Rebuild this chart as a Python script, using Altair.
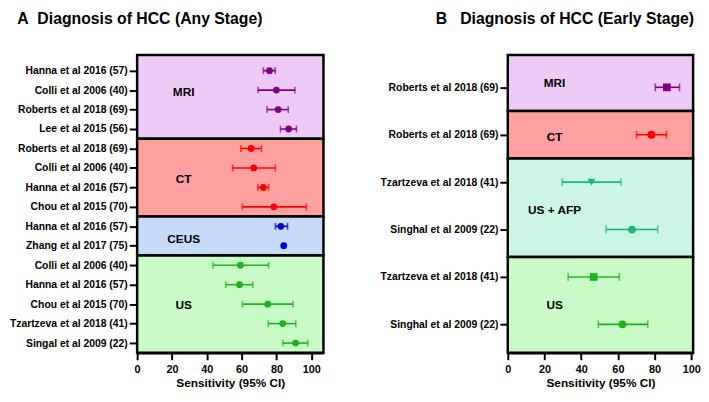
import json
import altair as alt
import pandas as pd

# ---------------- Panel A data ----------------
a_studies = ["Hanna et al 2016 (57)", "Colli et al 2006 (40)", "Roberts et al 2018 (69)", "Lee et al 2015 (56)",
             "Roberts et al 2018 (69)", "Colli et al 2006 (40)", "Hanna et al 2016 (57)", "Chou et al 2015 (70)",
             "Hanna et al 2016 (57)", "Zhang et al 2017 (75)",
             "Colli et al 2006 (40)", "Hanna et al 2016 (57)", "Chou et al 2015 (70)",
             "Tzartzeva et al 2018 (41)", "Singal et al 2009 (22)"]
a_modality = ["MRI"] * 4 + ["CT"] * 4 + ["CEUS"] * 2 + ["US"] * 5
a_sens = [76, 80, 81, 87, 65.5, 67, 72.5, 78.5, 82.5, 84.2, 59.3, 58.8, 75, 83.6, 91]
a_lo = [72.5, 69.5, 74.6, 82.3, 59.6, 54.8, 69.3, 60.5, 79.4, None, 43.6, 50.9, 60.5, 75.3, 83.6]
a_hi = [79.3, 90.6, 86.8, 91.5, 71.4, 79.4, 75.5, 97.2, 86.4, None, 75.5, 66.5, 89.5, 91.1, 98]
a_groups = ["MRI", "CT", "CEUS", "US"]
a_group_top = [-0.8, 3.5, 7.5, 9.5]
a_group_bottom = [3.5, 7.5, 9.5, 14.5]
a_label_row = [1.1, 5.55, 8.65, 12.03]
a_label_x = 26.7
a_xmax = 107

# ---------------- Panel B data ----------------
b_studies = ["Roberts et al 2018 (69)", "Roberts et al 2018 (69)", "Tzartzeva et al 2018 (41)",
             "Singhal et al 2009 (22)", "Tzartzeva et al 2018 (41)", "Singhal et al 2009 (22)"]
b_modality = ["MRI", "CT", "US + AFP", "US + AFP", "US", "US"]
b_sens = [86.7, 78.3, 45.6, 67.7, 46.8, 62.5]
b_lo = [80.4, 70.2, 29.7, 53.6, 32.9, 49.3]
b_hi = [93.6, 86.5, 61.7, 81.7, 60.8, 76.3]
b_groups = ["MRI", "CT", "US + AFP", "US"]
b_group_top = [-0.68, 0.5, 1.5, 3.58]
b_group_bottom = [0.5, 1.5, 3.58, 5.6]
b_label_row = [-0.08, 1.04, 2.58, 4.6]
b_label_x = 25.5
b_xmax = 101

# ---------------- styles ----------------
all_mods = ["MRI", "CT", "CEUS", "US", "US + AFP"]
point_colors = ["#800080", "#ff0000", "#0000cc", "#1db31d", "#19b77c"]
box_fills = ["#eecbf7", "#fea0a0", "#c6dbf7", "#c8fbc6", "#cbf6e5"]
all_shapes = ["circle", "square", "triangle-down"]
a_markers = ["circle"] * 15
b_markers = ["square", "circle", "triangle-down", "circle", "square", "circle"]

FONT = "Liberation Sans"
color_scale = alt.Scale(domain=all_mods, range=point_colors)
fill_scale = alt.Scale(domain=all_mods, range=box_fills)
shape_scale = alt.Scale(domain=all_shapes, range=all_shapes)


def panel(studies, modality, sens, lo, hi, markers, groups, tops, bottoms, label_rows, label_x,
          xmax, width, height, title, anchor, dx, psize, cap):
    n = len(studies)
    pts = pd.DataFrame({"row": list(range(n)), "study": studies, "mod": modality,
                        "sens": sens, "lo": lo, "hi": hi, "marker": markers})
    boxes = pd.DataFrame({"group": groups, "top": tops, "bottom": bottoms,
                          "x0": [0] * len(groups), "x1": [xmax] * len(groups)})
    labs = pd.DataFrame({"group": groups, "row": label_rows, "x": [label_x] * len(groups)})

    xscale = alt.Scale(domain=[0, xmax], nice=False, zero=False)
    ydom = [min(tops), max(bottoms)]
    yscale = alt.Scale(domain=ydom, reverse=True, nice=False, zero=False)

    label_expr = json.dumps(studies) + "[datum.value]"
    yaxis = alt.Axis(values=list(range(n)), labelExpr=label_expr, title=None, grid=False,
                     domain=False, tickSize=8, tickWidth=2, tickColor="black",
                     labelFont=FONT, labelFontWeight="bold", labelFontSize=10.5,
                     labelColor="black", labelPadding=2, labelOverlap=False)
    xaxis = alt.Axis(values=[0, 20, 40, 60, 80, 100], title="Sensitivity (95% CI)", grid=False,
                     domainColor="black", domainWidth=2.5, tickSize=7, tickWidth=2,
                     tickColor="black", labelFont=FONT, labelFontWeight="bold",
                     labelFontSize=11, labelColor="black", labelPadding=4,
                     labelOverlap=False, labelFlush=False,
                     titleFont=FONT, titleFontWeight="bold", titleFontSize=12,
                     titleColor="black", titlePadding=3)

    def X(f):
        return alt.X(f, scale=xscale, axis=xaxis)

    def Y(f):
        return alt.Y(f, scale=yscale, axis=yaxis)

    rect = alt.Chart(boxes).mark_rect(stroke="black", strokeWidth=2.5).encode(
        x=X("x0:Q"), x2="x1:Q", y=Y("top:Q"), y2="bottom:Q",
        fill=alt.Fill("group:N", scale=fill_scale, legend=None),
    )
    rule = alt.Chart(pts).mark_rule(strokeWidth=1.6).encode(
        x=X("lo:Q"), x2="hi:Q", y=Y("row:Q"),
        color=alt.Color("mod:N", scale=color_scale, legend=None),
    )
    cap_lo = alt.Chart(pts).mark_tick(orient="vertical", size=cap, thickness=1.6).encode(
        x=X("lo:Q"), y=Y("row:Q"), color=alt.Color("mod:N", scale=color_scale, legend=None),
    )
    cap_hi = alt.Chart(pts).mark_tick(orient="vertical", size=cap, thickness=1.6).encode(
        x=X("hi:Q"), y=Y("row:Q"), color=alt.Color("mod:N", scale=color_scale, legend=None),
    )
    point = alt.Chart(pts).mark_point(filled=True, opacity=1, size=psize).encode(
        x=X("sens:Q"), y=Y("row:Q"),
        color=alt.Color("mod:N", scale=color_scale, legend=None),
        shape=alt.Shape("marker:N", scale=shape_scale, legend=None),
    )
    text = alt.Chart(labs).mark_text(font=FONT, fontWeight="bold", fontSize=12, color="black",
                                     align="center", baseline="middle").encode(
        x=X("x:Q"), y=Y("row:Q"), text="group:N",
    )
    return alt.layer(rect, rule, cap_lo, cap_hi, point, text).properties(
        width=width, height=height,
        title=alt.TitleParams(text=title, anchor=anchor, frame="bounds" if anchor == "start" else "group",
                              font=FONT, fontWeight="bold", fontSize=16, color="black",
                              offset=19, dx=dx, dy=-8),
    )


pa = panel(a_studies, a_modality, a_sens, a_lo, a_hi, a_markers, a_groups, a_group_top,
           a_group_bottom, a_label_row, a_label_x, a_xmax, 189, 302,
           "A\u00a0\u00a0Diagnosis of HCC (Any Stage)", "start", 8, 48, 7)
pb = panel(b_studies, b_modality, b_sens, b_lo, b_hi, b_markers, b_groups, b_group_top,
           b_group_bottom, b_label_row, b_label_x, b_xmax, 188, 302,
           "B\u00a0\u00a0\u00a0Diagnosis of HCC (Early Stage)", "end", 1, 62, 8)

chart = alt.hconcat(pa, pb, spacing=54).properties(
    padding={"left": 0, "top": 0, "right": 0, "bottom": 0}
).configure_view(stroke=None).configure_axis(labelOverlap=False).configure(background="white")

chart.save("out.html", embed_options={"renderer": "svg", "actions": False})
